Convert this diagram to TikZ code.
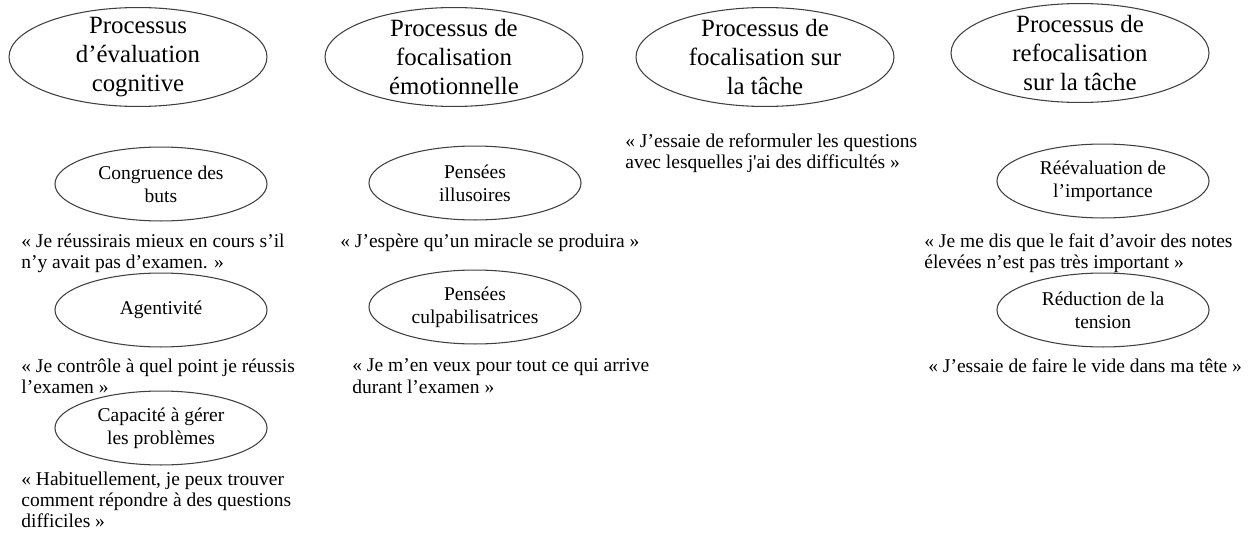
\documentclass[tikz,border=0pt]{standalone}
\usepackage{fontspec}
\setmainfont{Liberation Serif}
\usetikzlibrary{shapes}

\begin{document}
\begin{tikzpicture}[x=0.564pt,y=-0.564pt,
            grand/.style={draw=black!75,line width=0.6pt,ellipse,align=center,inner xsep=0pt,inner ysep=-12pt,minimum width=145.5pt,minimum height=55.8pt,font=\fontsize{14}{16.4}\selectfont},
            petit/.style={draw=black!75,line width=0.6pt,ellipse,align=center,inner xsep=0pt,inner ysep=-6pt,minimum width=119.6pt,minimum height=41.7pt,font=\fontsize{11}{13}\selectfont},
            citation/.style={anchor=north west,align=left,inner sep=0pt,font=\fontsize{11}{12}\selectfont}]
            \useasboundingbox (0,0) rectangle (1254,535);
            \node[grand] (evaluation) at (138,57) {Processus\\d’évaluation\\cognitive};
            \node[grand] (emotion) at (454,57) {Processus de\\focalisation\\émotionnelle};
            \node[grand] (tache) at (765,57) {Processus de\\focalisation sur\\la tâche};
            \node[grand] (refocal) at (1080,53) {Processus de\\refocalisation\\sur la tâche};
            \node[petit] (buts) at (161,184) {Congruence des\\buts};
            \node[petit] (agent) at (161,310) {Agentivité};
            \node[petit] (capacite) at (161,428) {Capacité à gérer\\les problèmes};
            \node[petit] (illusion) at (475,183) {Pensées\\illusoires};
            \node[petit] (culpa) at (475,307) {Pensées\\culpabilisatrices};
            \node[petit] (reeval) at (1103,181) {Réévaluation de\\l’importance};
            \node[petit] (reduction) at (1103,310) {Réduction de la\\tension};
            \node[citation] (cbuts) at (21,233.5) {« Je réussirais mieux en cours s’il\\n’y avait pas d’examen. »};
            \node[citation] (cagent) at (21,358.5) {« Je contrôle à quel point je réussis\\l’examen »};
            \node[citation] (ccapacite) at (21,471.5) {« Habituellement, je peux trouver\\comment répondre à des questions\\difficiles »};
            \node[citation] (cillusion) at (340,233.5) {« J’espère qu’un miracle se produira »};
            \node[citation] (cculpa) at (352,358.5) {« Je m’en veux pour tout ce qui arrive\\durant l’examen »};
            \node[citation] (ctache) at (625,133.5) {« J’essaie de reformuler les questions\\avec lesquelles j\textquotesingle ai des difficultés »};
            \node[citation] (creeval) at (924,233.5) {« Je me dis que le fait d’avoir des notes\\élevées n’est pas très important »};
            \node[citation] (creduction) at (928,358.5) {« J’essaie de faire le vide dans ma tête »};
          \end{tikzpicture}
\end{document}
